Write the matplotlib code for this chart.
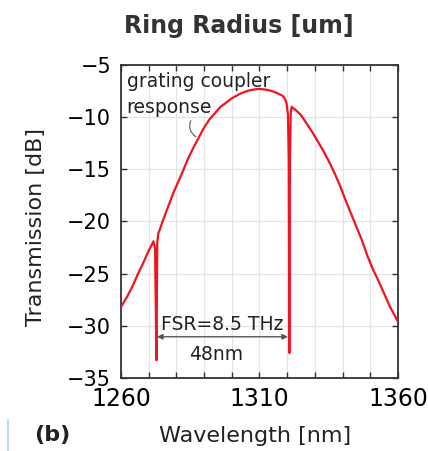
import numpy as np
import matplotlib
matplotlib.use("Agg")
import matplotlib.pyplot as plt
from matplotlib.patches import Rectangle
from matplotlib.lines import Line2D

# transmission spectrum
wavelength = [1260, 1261, 1262, 1263, 1264, 1265, 1266, 1267, 1268, 1269,
              1270, 1271, 1271.7, 1272.3, 1272.8, 1273.1, 1273.5, 1274, 1275, 1276,
              1277, 1278, 1279, 1280, 1281, 1282, 1283, 1284, 1285, 1286,
              1287, 1288, 1289, 1290, 1291, 1292, 1293, 1294, 1295, 1296,
              1297, 1298, 1299, 1300, 1301, 1302, 1303, 1304, 1305, 1306,
              1307, 1308, 1309, 1310, 1311, 1312, 1313, 1314, 1315, 1316,
              1317, 1318, 1318.7, 1319.3, 1319.8, 1320.3, 1320.6, 1320.8, 1321.0, 1321.3,
              1321.6, 1322, 1323, 1324, 1325, 1326, 1327, 1328, 1329, 1330,
              1331, 1332, 1333, 1334, 1335, 1336, 1337, 1338, 1339, 1340,
              1341, 1342, 1343, 1344, 1345, 1346, 1347, 1348, 1349, 1350,
              1351, 1352, 1353, 1354, 1355, 1356, 1357, 1358, 1359, 1360]
transmission = [-28.2, -27.75, -27.3, -26.8, -26.3, -25.7, -25.1, -24.55, -24.0, -23.4,
                -22.8, -22.3, -21.9, -22.6, -33.3, -22.0, -21.1, -20.8, -20.0, -19.3,
                -18.6, -17.9, -17.2, -16.6, -16.0, -15.4, -14.75, -14.1, -13.55, -13.0,
                -12.5, -12.0, -11.5, -11.0, -10.6, -10.2, -9.9, -9.6, -9.3, -9.0,
                -8.8, -8.6, -8.4, -8.2, -8.05, -7.9, -7.77, -7.65, -7.55, -7.46,
                -7.4, -7.35, -7.32, -7.3, -7.32, -7.35, -7.4, -7.46, -7.55, -7.65,
                -7.77, -7.9, -8.05, -8.3, -8.7, -9.8, -14.0, -32.6, -14.0, -9.6,
                -9.0, -9.1, -9.3, -9.55, -9.8, -10.2, -10.6, -11.0, -11.4, -11.85,
                -12.3, -12.75, -13.2, -13.7, -14.2, -14.75, -15.3, -15.9, -16.5, -17.2,
                -17.9, -18.55, -19.2, -19.85, -20.5, -21.15, -21.8, -22.55, -23.3, -23.95,
                -24.6, -25.15, -25.7, -26.3, -26.9, -27.5, -28.1, -28.6, -29.1, -29.6]

x_ticks = list(range(1260, 1361, 10))
x_labels = ["1260", "", "", "", "", "1310", "", "", "", "", "1360"]
y_ticks = [-35, -30, -25, -20, -15, -10, -5]

notch_left = 1273.0
notch_right = 1320.3
fsr_label = "FSR=8.5 THz"
spacing_label = "48nm"

fig = plt.figure(figsize=(4.28, 4.51), dpi=100)
ax = fig.add_axes([0.2827, 0.1619, 0.647, 0.694])

ax.plot(wavelength, transmission, color="#f0141e", lw=1.6, zorder=3)

ax.set_xlim(1260, 1360)
ax.set_ylim(-35, -5)
ax.set_xticks(x_ticks)
ax.set_xticklabels(x_labels)
ax.set_yticks(y_ticks)
ax.grid(True, color="#e4e4e4", lw=0.9)
ax.set_axisbelow(True)
ax.tick_params(direction="in", top=True, right=True, length=4, width=1.0, color="#333333")
ax.tick_params(axis="x", labelsize=17, pad=6.5)
ax.tick_params(axis="y", labelsize=15, pad=7)
for s in ax.spines.values():
    s.set_linewidth(1.3)
    s.set_color("#333333")

ax.set_xlabel("Wavelength [nm]", fontsize=16, color="#222222")
ax.xaxis.set_label_coords(0.485, -0.155)
ax.set_ylabel("Transmission [dB]", fontsize=16, color="#222222")
ax.yaxis.set_label_coords(-0.27, 0.482)

# annotations
ax.text(1262.0, -7.1, "grating coupler", fontsize=13.5, color="#222222", va="baseline")
ax.text(1262.0, -9.6, "response", fontsize=13.5, color="#222222", va="baseline")
ax.annotate("", xy=(1287.9, -12.0), xytext=(1285.6, -10.1),
            arrowprops=dict(arrowstyle="-", color="#666666", lw=0.9,
                            connectionstyle="arc3,rad=0.5"))

ax.annotate("", xy=(notch_left, -31.05), xytext=(notch_right, -31.05),
            arrowprops=dict(arrowstyle="<|-|>", color="#555555", lw=1.0,
                            mutation_scale=8, shrinkA=0, shrinkB=0))
ax.text(1296.4, -30.4, fsr_label, fontsize=13.5, color="#222222", ha="center", va="baseline")
ax.text(1294.5, -33.3, spacing_label, fontsize=13.5, color="#222222", ha="center", va="baseline")

# title (bottom clipped like the reference)
fig.text(0.557, 1 - 33 / 451, "Ring Radius [um]", fontsize=17, fontweight="bold",
         color="#333333", ha="center", va="baseline")
fig.patches.append(Rectangle((0, 1 - 55 / 451), 1, 15 / 451, transform=fig.transFigure,
                             color="white", zorder=10))

fig.text(0.08, 1 - 441 / 451, "(b)", fontsize=16, fontweight="bold", color="#222222",
         va="baseline")
fig.add_artist(Line2D([8 / 428, 8 / 428], [0, 31 / 451], color="#a8d8f0", lw=1.2))

fig.savefig("out.png", dpi=100)
